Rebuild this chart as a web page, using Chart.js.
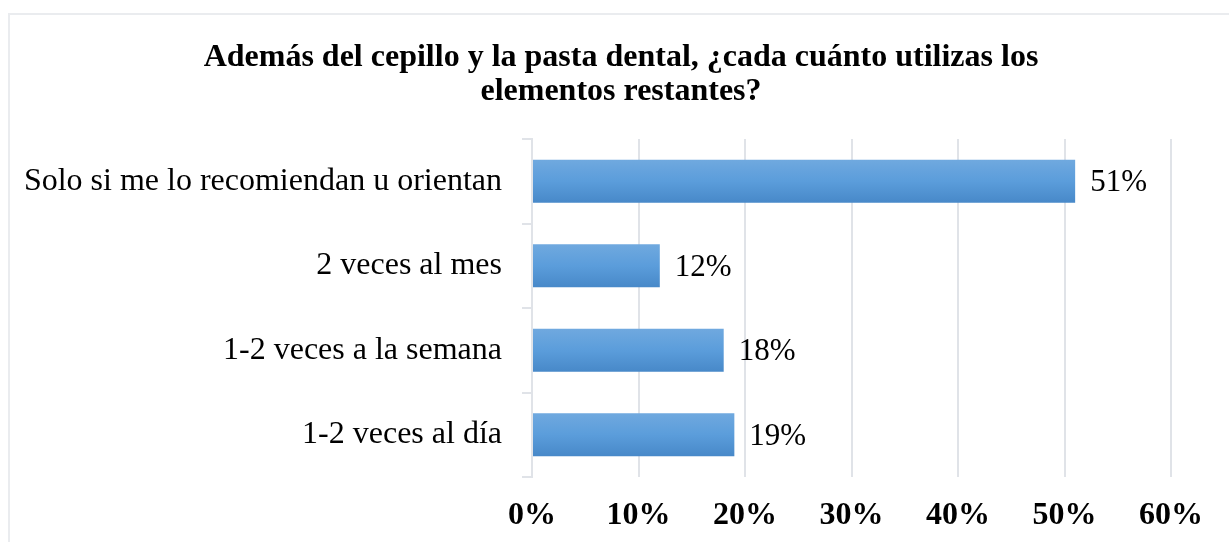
<!DOCTYPE html>
<html>
<head>
<meta charset="utf-8">
<script src="https://cdn.jsdelivr.net/npm/chart.js@4"></script>
<style>
  html, body { margin: 0; padding: 0; background: #fff; overflow: hidden; }
  #wrap { position: relative; width: 1229px; height: 542px; }
  #frame { position: absolute; left: 8px; top: 13px; width: 1300px; height: 600px; border: 2px solid #eaecef; box-sizing: border-box; }
  canvas { position: absolute; left: 0; top: 0; }
</style>
</head>
<body>
<div id="wrap">
  <div id="frame"></div>
  <canvas id="barCanvas" width="1229" height="542"></canvas>
</div>
<script>
const categories = ["Solo si me lo recomiendan u orientan", "2 veces al mes", "1-2 veces a la semana", "1-2 veces al día"]
const values = [51, 12, 18, 19]
const tickValues = [0, 10, 20, 30, 40, 50, 60]

const serif = "'Liberation Serif', 'Times New Roman', serif"

// etiquetas de valor a la derecha de cada barra
const valueLabels = {
    id: 'valueLabels',
    afterDatasetsDraw(chart) {
        const ctx = chart.ctx
        const meta = chart.getDatasetMeta(0)
        ctx.save()
        ctx.font = "31px " + serif
        ctx.fillStyle = "#000"
        ctx.textAlign = "left"
        ctx.textBaseline = "middle"
        meta.data.forEach((bar, i) => {
            ctx.fillText(values[i] + "%", bar.x + 15, bar.y + 2)
        })
        ctx.restore()
    }
}

function barGradient(context) {
    const chart = context.chart
    const yScale = chart.scales.y
    if (!yScale || context.dataIndex === undefined) return "#5a9ddc"
    const center = yScale.getPixelForValue(context.dataIndex)
    if (!isFinite(center)) return "#5a9ddc"
    const half = 22
    const g = chart.ctx.createLinearGradient(0, center - half, 0, center + half)
    g.addColorStop(0, "#70a9df")
    g.addColorStop(0.5, "#5b9ddb")
    g.addColorStop(1, "#4788c8")
    return g
}

const barCanvas = document.getElementById('barCanvas')

const barChart = new Chart(barCanvas, {
    type: "bar",
    data: {
        labels: categories,
        datasets: [{
            data: values,
            backgroundColor: barGradient,
            barPercentage: 0.51,
            categoryPercentage: 1,
        }]
    },
    plugins: [valueLabels],
    options: {
        indexAxis: 'y',
        responsive: false,
        animation: false,
        layout: { padding: { left: 13, right: 0, top: 0, bottom: 0 } },
        plugins: {
            legend: { display: false },
            tooltip: { enabled: false },
            title: {
                display: true,
                text: ["Además del cepillo y la pasta dental, ¿cada cuánto utilizas los", "elementos restantes?"],
                color: "#000",
                font: { family: serif, size: 32, weight: "bold", lineHeight: 34 / 32 },
                padding: { top: 41, bottom: 30 }
            }
        },
        scales: {
            x: {
                min: 0,
                max: 60,
                afterBuildTicks: s => { s.ticks = tickValues.map(v => ({ value: v })) },
                afterFit: s => { s.height = 65 },
                border: { display: false },
                grid: { color: "#e0e3e8", lineWidth: 2, drawTicks: false },
                ticks: {
                    padding: 20,
                    color: "#000",
                    font: { family: serif, size: 32, weight: "bold" },
                    callback: v => v + "%"
                }
            },
            y: {
                afterFit: s => { s.width = 532 - 13 },
                border: { display: true, color: "#e0e3e8", width: 2 },
                grid: { offset: true, drawOnChartArea: false, drawTicks: true, tickLength: 10, color: "#e0e3e8", lineWidth: 2 },
                ticks: {
                    padding: 20,
                    color: "#000",
                    font: { family: serif, size: 32 }
                }
            },
            y2: {
                position: 'right',
                afterFit: s => { s.width = 1229 - 1171 - 0 },
                border: { display: false },
                grid: { display: false },
                ticks: { display: false }
            }
        }
    }
})
</script>
</body>
</html>
